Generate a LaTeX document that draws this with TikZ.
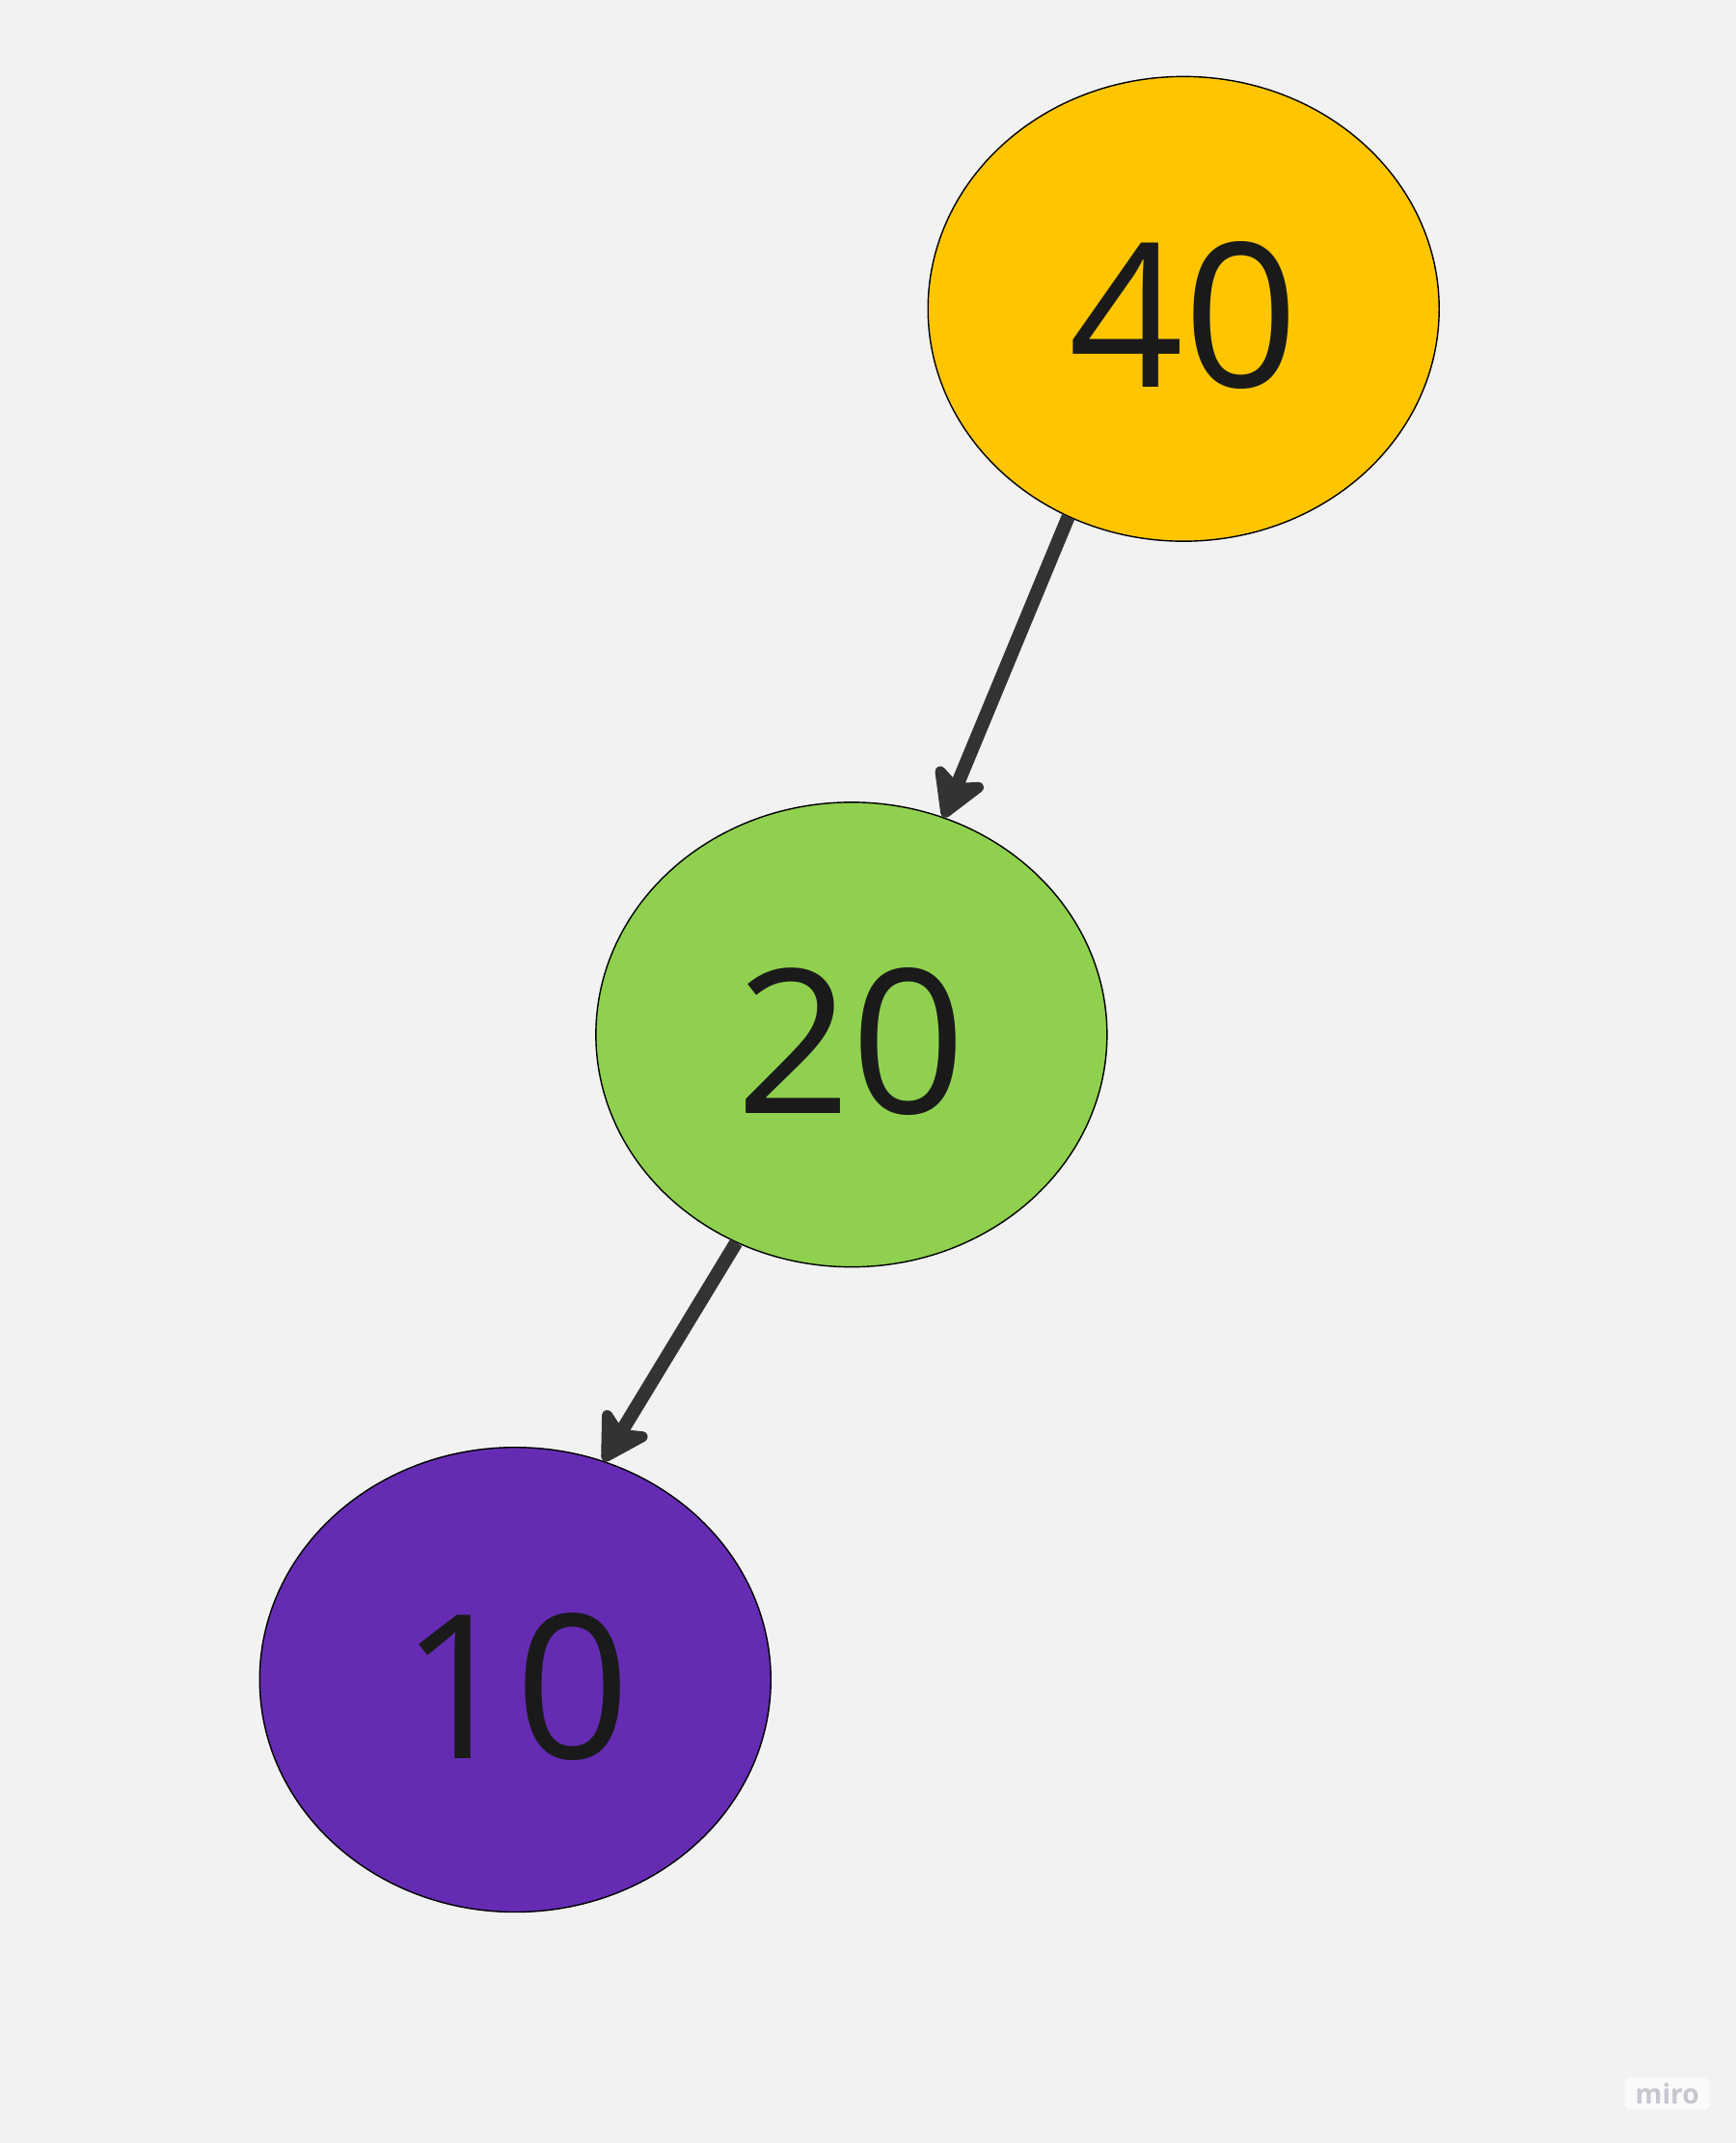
\documentclass[tikz,border=0pt]{standalone}
\usepackage{fontspec}
\setmainfont{Open Sans}
\usetikzlibrary{shapes.geometric,arrows.meta}
\definecolor{bg}{HTML}{F2F2F2}
\definecolor{cyellow}{HTML}{FFC600}
\definecolor{cgreen}{HTML}{8FD14F}
\definecolor{cpurple}{HTML}{652CB3}
\definecolor{arrowc}{HTML}{333333}
\definecolor{txt}{HTML}{1A1A1A}
\definecolor{mirogray}{HTML}{C6C6D0}
\tikzset{
  treenode/.style={ellipse, draw=black, line width=0.5pt, inner sep=0pt,
    minimum width=187pt, minimum height=170pt, text=txt,
    text height=57.5pt, text depth=0pt,
    font=\fontsize{73.5}{80}\selectfont},
  edge/.style={draw=arrowc, line width=5pt,
    -{Stealth[length=21pt,width=24pt,inset=5.5pt,round]}}
}
\begin{document}
\begin{tikzpicture}[x=0.5pt,y=-0.5pt]
\fill[bg] (0,0) rectangle (1270,1568);
\useasboundingbox (0,0) rectangle (1270,1568);
\node[treenode, fill=cyellow] (n40) at (866,226) {40};
\node[treenode, fill=cgreen] (n20) at (623,757) {20};
\node[treenode, fill=cpurple] (n10) at (377,1229) {10};
\draw[edge] (n40.-119) -- (n20.67);
\draw[edge] (n20.-119) -- (n10.68);
\node[fill=white!60!bg, rounded corners=2pt, text=mirogray, inner xsep=4pt, inner ysep=2pt,
  font=\fontsize{10}{11}\selectfont\bfseries] (miro) at (1220,1532) {miro};
\end{tikzpicture}
\end{document}
